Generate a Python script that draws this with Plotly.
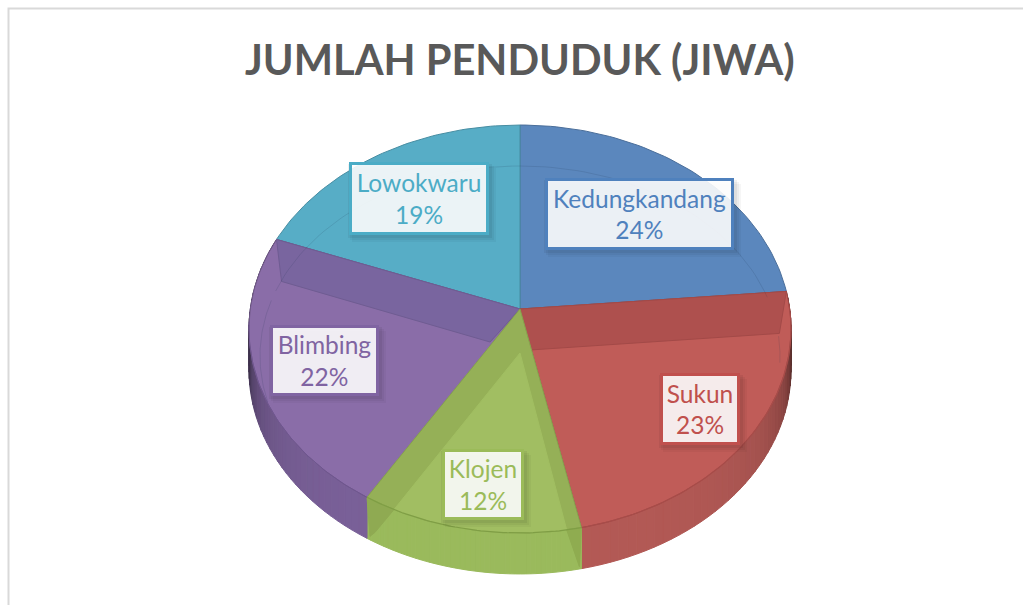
import math
import plotly.graph_objects as go

TITLE = "JUMLAH PENDUDUK (JIWA)"
districts = ["Kedungkandang", "Sukun", "Klojen", "Blimbing", "Lowokwaru"]
shares = [23.6, 23.1, 12.0, 22.1, 19.2]
top_colors = ["#5B87BD", "#C05C58", "#A1BE62", "#8A6DA8", "#57ADC6"]
text_colors = ["#4F81BD", "#C0504D", "#9BBB59", "#8064A2", "#4BACC6"]
boxes = [(545, 178, 733, 249), (660, 373, 739, 444), (442, 449, 523, 519),
         (270, 325, 378, 395), (349, 162, 488, 234)]

CX, CY, AP, BP, K, DEPTH = 520, 309, 269.7, 202, 0.098, 41
total = sum(shares)
cum = [0]
for s in shares:
    cum.append(cum[-1] + s / total)


def rim(f):
    th = 2 * math.pi * f
    X, Y = math.sin(th), -math.cos(th)
    den = 1 - K * Y
    return CX + AP * X / den, CY + BP * Y / den


def arc(f0, f1, n=60):
    return [rim(f0 + (f1 - f0) * i / n) for i in range(n + 1)]


def shade(hexc, m):
    r, g, b = int(hexc[1:3], 16), int(hexc[3:5], 16), int(hexc[5:7], 16)
    return f"rgb({int(r*m)},{int(g*m)},{int(b*m)})"


fig = go.Figure()


def poly(pts, fill, line=None, width=1):
    fig.add_trace(go.Scatter(
        x=[p[0] for p in pts] + [pts[0][0]], y=[p[1] for p in pts] + [pts[0][1]],
        mode="lines", fill="toself", fillcolor=fill,
        line=dict(color=line or fill, width=width), hoverinfo="skip", showlegend=False))


def curve(pts, color, width=1):
    fig.add_trace(go.Scatter(x=[p[0] for p in pts], y=[p[1] for p in pts], mode="lines",
                             line=dict(color=color, width=width), hoverinfo="skip", showlegend=False))


# outer walls with shading towards the silhouette
wall_base = {1: "#B45A56", 2: "#9ABA5C", 3: "#7C629B"}
for idx in (1, 2, 3):
    n = 44
    f0, f1 = cum[idx], cum[idx + 1]
    for i in range(n):
        a = f0 + (f1 - f0) * i / n
        b = f0 + (f1 - f0) * (i + 1) / n
        mid = (a + b) / 2
        m = 1.0
        if idx == 1:
            m -= 0.55 * math.exp(-max(0, mid - 0.27) / 0.04)
        if idx == 3:
            m -= 0.50 * math.exp(-max(0, 0.73 - mid) / 0.04)
        col = shade(wall_base[idx], m)
        p, q = rim(a), rim(b)
        poly([p, q, (q[0], q[1] + DEPTH), (p[0], p[1] + DEPTH)], col)

# top surface
apex = (CX, CY)
for idx in (0, 4, 3, 1):
    poly([apex] + arc(cum[idx], cum[idx + 1]), top_colors[idx], shade(top_colors[idx], 0.82))

# back walls seen through the translucent slices
p1 = rim(cum[1])
poly([apex, p1, (p1[0] - 7, p1[1] + 42), (CX + 10, CY + 41)], "#AE504E", "#A34A48")
p4 = rim(cum[4])
poly([apex, p4, (p4[0] + 5, p4[1] + 42), (CX - 30, CY + 33)], "#79659F", "#6F5C92")

# Klojen slice and its walls
f_a, f_b = cum[2], cum[3]
in_r, in_l = f_a + 0.008, f_b - 0.017
floor_apex = (CX, CY + 44)
poly([apex] + arc(f_a, f_b), "#95B057", "#87A34E")
poly([floor_apex] + arc(in_r, in_l), top_colors[2], top_colors[2])
rl, ril = rim(f_b), rim(in_l)
poly([rl, ril, (rl[0] + 8, rl[1] + 35), (rl[0] + 3, rl[1] + 39)], "#8FAA52")
rr, rir = rim(f_a), rim(in_r)
poly([rr, rir, (rr[0] - 2, rr[1] + 39)], "#8FAC50")

# rim highlight on the front
curve(arc(cum[1] + 0.01, cum[2]), "#A84C49", 1.2)
curve(arc(cum[2], cum[3]), "#7F9E45", 1.2)
curve(arc(cum[3], 0.74), "#6F5690", 1.0)


# faint floor circle seen through the top
def floor(t0, t1, n=40):
    out = []
    for i in range(n + 1):
        t = math.radians(t0 + (t1 - t0) * i / n)
        out.append((CX + 260 * math.sin(t), 356 - 190 * math.cos(t)))
    return out


for t0, t1 in ((0, 72), (84, 92), (-70, 0), (-104, -73)):
    curve(floor(t0, t1), "rgba(30,50,80,0.14)", 1)

# frame
shapes = [dict(type="rect", x0=8.5, y0=8.5, x1=1040, y1=620, line=dict(color="#D9D9D9", width=2),
               layer="below")]
annotations = []
for i, name in enumerate(districts):
    x0, y0, x1, y1 = boxes[i]
    for off, alpha in ((8, 0.035), (6, 0.045), (4, 0.055)):
        shapes.append(dict(type="rect", x0=x0 + off - 5, y0=y0 + off - 2, x1=x1 + off, y1=y1 + off,
                           fillcolor=f"rgba(0,0,0,{alpha})", line=dict(width=0), layer="above"))
    annotations.append(dict(
        x=(x0 + x1) / 2, y=(y0 + y1) / 2, xref="x", yref="y", showarrow=False,
        text=f"{name}<br>{round(shares[i] / total * 100)}%",
        width=x1 - x0 - 5, height=y1 - y0 - 5, align="center", valign="middle",
        bgcolor="rgba(255,255,255,0.89)", bordercolor=text_colors[i], borderwidth=3,
        borderpad=0, font=dict(family="Lato, Carlito, sans-serif", size=24.5, color=text_colors[i])))

annotations.append(dict(x=520, y=59, xref="x", yref="y", showarrow=False, text=f"<b>{TITLE}</b>",
                        font=dict(family="Lato, Carlito, sans-serif", size=41.6, color="#595959")))

fig.update_layout(
    width=1023, height=605, margin=dict(l=0, r=0, t=0, b=0), showlegend=False,
    paper_bgcolor="white", plot_bgcolor="white", shapes=shapes, annotations=annotations,
    xaxis=dict(range=[0, 1023], visible=False, fixedrange=True),
    yaxis=dict(range=[605, 0], visible=False, fixedrange=True),
)
fig.write_html("out.html", post_script="document.body.style.margin='0';document.body.style.overflow='hidden';",
               config=dict(displayModeBar=False))
